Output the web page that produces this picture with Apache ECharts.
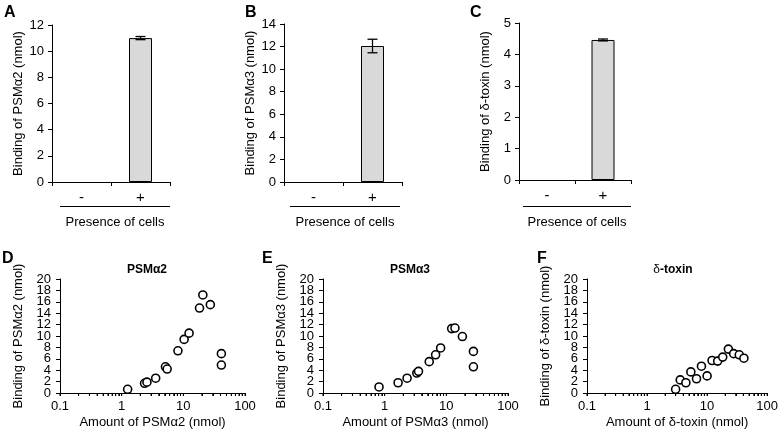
<!DOCTYPE html>
<html><head><meta charset="utf-8">
<script src="https://cdn.jsdelivr.net/npm/echarts@6/dist/echarts.min.js"></script>
<style>html,body{margin:0;padding:0;background:#fff}#c{width:781px;height:439px}</style>
</head><body><div id="c"></div>
<script>
// ---- data ----
const presenceCats = ['-', '+'];
const bindA = [0, 11.0];  const errA = [0, 0.12];
const bindB = [0, 12.05]; const errB = [0, 0.6];
const bindC = [0, 4.46];  const errC = [0, 0.03];

const amtD  = [1.25, 2.35, 2.57, 3.56, 5.13, 5.47, 8.18, 10.3, 12.4, 18.3, 20.7, 27.4, 41.4, 41.4];
const bindD = [0.65, 1.7, 1.9, 2.6, 4.6, 4.2, 7.4, 9.4, 10.5, 14.9, 17.2, 15.5, 6.9, 4.9];
const amtE  = [0.81, 1.65, 2.31, 3.32, 3.54, 5.28, 6.7, 8.08, 12.2, 13.8, 18.2, 27.5, 27.5];
const bindE = [1.06, 1.8, 2.6, 3.5, 3.8, 5.5, 6.7, 7.9, 11.3, 11.4, 9.9, 7.3, 4.6];
const amtF  = [2.99, 3.57, 4.43, 5.36, 6.66, 8.05, 10.0, 12.1, 15.0, 18.2, 22.6, 27.7, 34.3, 41.0];
const bindF = [0.65, 2.3, 1.8, 3.7, 2.5, 4.7, 3.0, 5.7, 5.6, 6.3, 7.7, 6.9, 6.7, 6.1];

const logMajor = [0.1, 1, 10, 100];
const logMinor = [0.1,0.2,0.3,0.4,0.5,0.6,0.7,0.8,0.9,1,2,3,4,5,6,7,8,9,10,20,30,40,50,60,70,80,90,100];
const yLabelsEvenA = [0, 4, 8, 12, 16, 20];
const yLabelsEvenB = [2, 6, 10, 14, 18];

const topYAxisNames = ['Binding of PSMα2 (nmol)', 'Binding of PSMα3 (nmol)', 'Binding of δ-toxin (nmol)'];
const topYMax = [12, 14, 5];
const topYInterval = [2, 2, 1];
const botYAxisNames = ['Binding of PSMα2 (nmol)', 'Binding of PSMα3 (nmol)', 'Binding of δ-toxin (nmol)'];
const botXAxisNames = ['Amount of PSMα2 (nmol)', 'Amount of PSMα3 (nmol)', 'Amount of δ-toxin (nmol)'];
const panelLetters = ['A', 'B', 'C', 'D', 'E', 'F'];
const xGroupName = 'Presence of cells';

// ---- layout ----
const FONT = '"Liberation Sans", Arial, Helvetica, sans-serif';
const topGrids = [
  {left: 52, top: 25, width: 118, height: 157},
  {left: 284, top: 24, width: 118, height: 158},
  {left: 519, top: 23, width: 112, height: 157}
];
const botGrids = [
  {left: 60, top: 279, width: 185, height: 114},
  {left: 323, top: 279, width: 185, height: 114},
  {left: 587, top: 279, width: 183, height: 114}
];
const axLine = {show: true, lineStyle: {color: '#000', width: 1}};

const grid = [], xAxis = [], yAxis = [], series = [];
const barsData = [bindA, bindB, bindC];
const errData = [errA, errB, errC];

topGrids.forEach((g, i) => {
  grid.push(Object.assign({containLabel: false}, g));
  xAxis.push({
    type: 'category', gridIndex: i, data: presenceCats, boundaryGap: true,
    axisLine: axLine, axisTick: {show: true, length: 4, lineStyle: {color: '#000'}},
    axisLabel: {color: '#000', fontSize: 15, fontFamily: FONT, margin: 8},
    splitLine: {show: false}
  });
  yAxis.push({
    type: 'value', gridIndex: i, min: 0, max: topYMax[i], interval: topYInterval[i],
    name: topYAxisNames[i], nameLocation: 'middle', nameRotate: 90, nameGap: 27,
    nameTextStyle: {color: '#000', fontSize: 13, fontFamily: FONT},
    axisLine: axLine, axisTick: {show: true, length: 4, lineStyle: {color: '#000'}},
    axisLabel: {color: '#000', fontSize: 13, fontFamily: FONT, margin: 8, showMinLabel: true, showMaxLabel: true},
    splitLine: {show: false}
  });
  series.push({
    type: 'bar', xAxisIndex: i, yAxisIndex: i,
    data: barsData[i].map(v => v === 0 ? {value: 0, itemStyle: {borderWidth: 0, color: 'rgba(0,0,0,0)'}} : v),
    barWidth: 23,
    itemStyle: {color: '#d9d9d9', borderColor: '#000', borderWidth: 1},
    silent: true, animation: false
  });
  series.push({
    type: 'custom', xAxisIndex: i, yAxisIndex: i,
    data: barsData[i].map((v, k) => [k, v, errData[i][k]]),
    encode: {x: 0, y: 1}, silent: true, animation: false, z: 5,
    renderItem: function (params, api) {
      const x = api.value(0), y = api.value(1), e = api.value(2);
      if (!e) return null;
      const hi = api.coord([x, y + e]), lo = api.coord([x, y - e]);
      const w = 5;
      const st = {stroke: '#000', lineWidth: 1.3};
      return {type: 'group', children: [
        {type: 'line', shape: {x1: hi[0], y1: hi[1], x2: lo[0], y2: lo[1]}, style: st},
        {type: 'line', shape: {x1: hi[0] - w, y1: hi[1], x2: hi[0] + w, y2: hi[1]}, style: st},
        {type: 'line', shape: {x1: lo[0] - w, y1: lo[1], x2: lo[0] + w, y2: lo[1]}, style: st}
      ]};
    }
  });
});

const scatX = [amtD, amtE, amtF];
const scatY = [bindD, bindE, bindF];
const extraY = [];
botGrids.forEach((g, j) => {
  const i = j + 3;
  grid.push(Object.assign({containLabel: false}, g));
  xAxis.push({
    type: 'log', logBase: 10, gridIndex: i, min: 0.1, max: 100,
    name: botXAxisNames[j], nameLocation: 'middle', nameGap: 23,
    nameTextStyle: {color: '#000', fontSize: 13, fontFamily: FONT},
    axisLine: axLine,
    axisTick: {show: true, length: 3, customValues: logMinor, lineStyle: {color: '#000'}},
    axisLabel: {color: '#000', fontSize: 13, fontFamily: FONT, margin: 7, customValues: logMajor,
      showMinLabel: true, showMaxLabel: true, formatter: v => String(v)},
    splitLine: {show: false}
  });
  yAxis.push({
    type: 'value', gridIndex: i, min: 0, max: 20, interval: 2,
    name: botYAxisNames[j], nameLocation: 'middle', nameRotate: 90, nameGap: 35,
    nameTextStyle: {color: '#000', fontSize: 13, fontFamily: FONT},
    axisLine: axLine, axisTick: {show: true, length: 4, lineStyle: {color: '#000'}},
    axisLabel: {color: '#000', fontSize: 13, fontFamily: FONT, margin: 9, customValues: yLabelsEvenA,
      showMinLabel: true, showMaxLabel: true},
    splitLine: {show: false}
  });
  extraY.push({
    type: 'value', gridIndex: i, min: 0, max: 20, interval: 2, position: 'left',
    axisLine: {show: false}, axisTick: {show: false}, splitLine: {show: false},
    axisLabel: {color: '#000', fontSize: 13, fontFamily: FONT, margin: 9, customValues: yLabelsEvenB}
  });
  series.push({
    type: 'scatter', xAxisIndex: i, yAxisIndex: i,
    data: scatX[j].map((x, k) => [x, scatY[j][k]]),
    symbol: 'circle', symbolSize: 8,
    itemStyle: {color: '#fff', borderColor: '#000', borderWidth: 1.6, opacity: 1},
    silent: true, animation: false
  });
  // minor log ticks drawn through the axis scale
  series.push({
    type: 'custom', xAxisIndex: i, yAxisIndex: i,
    data: logMinor.map(v => [v, 0]), encode: {x: 0, y: 1},
    silent: true, animation: false, clip: false, z: 1,
    renderItem: function (params, api) {
      const p = api.coord([api.value(0), 0]);
      return {type: 'line', shape: {x1: p[0], y1: p[1], x2: p[0], y2: p[1] + 3},
        style: {stroke: '#000', lineWidth: 1}};
    }
  });
});
extraY.forEach(a => yAxis.push(a));

const letterPos = [[4, 5], [245, 5], [470, 5], [2, 251], [262, 251], [537, 251]];
const titles = panelLetters.map((L, k) => ({
  text: L, left: letterPos[k][0], top: letterPos[k][1], padding: 0,
  textStyle: {fontSize: 16, fontWeight: 'bold', color: '#000', fontFamily: FONT}
}));
const subTitleCenters = [147, 410, 673];
const subTitleTexts = ['{b|PSMα2}', '{b|PSMα3}', '{r|δ}{b|-toxin}'];
subTitleTexts.forEach((t, k) => titles.push({
  text: t, left: subTitleCenters[k], top: 264, textAlign: 'center', padding: 0,
  textStyle: {fontSize: 12, color: '#000', fontFamily: FONT,
    rich: {b: {fontWeight: 'bold', fontSize: 12, fontFamily: FONT}, r: {fontWeight: 'normal', fontSize: 12, fontFamily: FONT}}}
}));

const groupLines = [[60, 170], [290, 400], [523, 631]];
const graphic = [];
groupLines.forEach(([a, b]) => {
  graphic.push({type: 'line', shape: {x1: a, y1: 206.5, x2: b, y2: 206.5}, style: {stroke: '#000', lineWidth: 1}, silent: true});
  graphic.push({type: 'text', x: (a + b) / 2, y: 222, style: {text: xGroupName, fill: '#000', font: '13px ' + FONT, textAlign: 'center', textVerticalAlign: 'middle'}, silent: true});
});

const chart = echarts.init(document.getElementById('c'), null, {renderer: 'canvas'});
chart.setOption({
  backgroundColor: '#fff', animation: false,
  title: titles, grid, xAxis, yAxis, series, graphic
});
</script></body></html>
